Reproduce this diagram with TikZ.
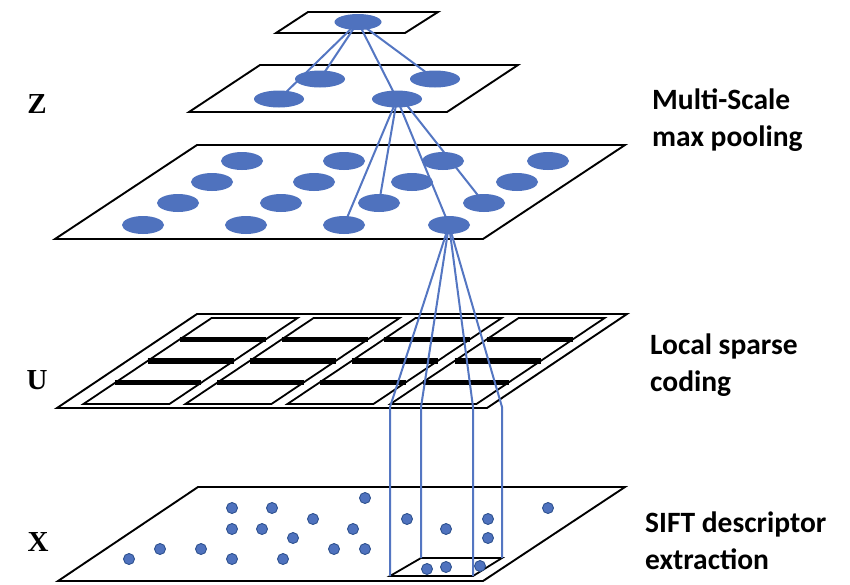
\documentclass[tikz,border=0pt]{standalone}
\usepackage{fontspec}
\setmainfont{Liberation Serif}
\newfontfamily\calibfont{Carlito}
\usetikzlibrary{shapes.geometric}
\pgfdeclarelayer{planes}
\pgfdeclarelayer{links}
\pgfsetlayers{planes,links,main}
\definecolor{nodeblue}{RGB}{79,114,190}
\definecolor{linkblue}{RGB}{84,118,194}
\definecolor{dotedge}{RGB}{47,82,143}
\begin{document}
\begin{tikzpicture}[x=1pt,y=-1pt,
  plane/.style={draw=black,line width=1.9pt,fill=white,line join=miter},
  panel/.style={draw=black,line width=1.8pt,line join=miter},
  bar/.style={draw=black,line width=5.5pt},
  topell/.style={ellipse,fill=nodeblue,minimum width=47pt,minimum height=16pt,inner sep=0pt},
  bigell/.style={ellipse,fill=nodeblue,minimum width=50pt,minimum height=17pt,inner sep=0pt},
  midell/.style={ellipse,fill=nodeblue,minimum width=42pt,minimum height=18pt,inner sep=0pt},
  link/.style={draw=linkblue,line width=2pt},
  dot/.style={circle,fill=nodeblue,draw=dotedge,line width=0.9pt,minimum size=11pt,inner sep=0pt},
  layerlab/.style={font=\bfseries\fontsize{29}{30}\selectfont,inner sep=0pt},
  desc/.style={anchor=north west,align=left,inner sep=0pt,font=\calibfont\bfseries\fontsize{29.5}{37}\selectfont},
  ]
\useasboundingbox (0,0) rectangle (850,584);

% ---------- coordinates for the descriptor window ----------
\coordinate (ub1) at (390,407);
\coordinate (ub2) at (421,407);
\coordinate (ub3) at (473,407);
\coordinate (ub4) at (502,407);
\coordinate (s1) at (390,576);
\coordinate (s2) at (421,558);
\coordinate (s3) at (473,576);
\coordinate (s4) at (502,558);

% ---------- planes ----------
\begin{pgfonlayer}{planes}
  % X plane
  \draw[plane] (198,487) -- (625,487) -- (483,581) -- (58,581) -- cycle;
  \draw[panel] (s1) -- (s3) -- (s4) -- (s2) -- cycle;
  % U plane
  \draw[plane] (197,314) -- (627,314) -- (487,408) -- (57,408) -- cycle;
  \foreach \a/\b in {77.5/163.5, 179.5/265.5, 281.5/367.5, 384.5/470.5} {
    \draw[panel] ({\a+1.49*90},318) -- ({\b+1.49*90},318) -- ({\b+1.49*4},404) -- ({\a+1.49*4},404) -- cycle;
    \foreach \yy in {339.5,361,382.5} {
      \draw[bar] ({\a+1.49*(408-\yy)},\yy) -- ({\b+1.49*(408-\yy)},\yy);
    }
  }
  % pooling plane
  \draw[plane] (197,145) -- (625,145) -- (483,239) -- (55,239) -- cycle;
  % second plane
  \draw[plane] (260,65) -- (518,65) -- (447,112) -- (189,112) -- cycle;
  % top plane
  \draw[plane] (308,12) -- (438,12) -- (405,33) -- (276,33) -- cycle;
\end{pgfonlayer}

% ---------- ellipse nodes ----------
\node[topell] (t) at (358,22) {};
\node[bigell] (p1) at (320,79) {};
\node[bigell] (p2) at (435,79) {};
\node[bigell] (p3) at (279,99) {};
\node[bigell] (p4) at (397,99) {};

\node[midell] (m11) at (242,161) {};
\node[midell] (m12) at (344,161) {};
\node[midell] (m13) at (443,161) {};
\node[midell] (m14) at (548,161) {};
\node[midell] (m21) at (212,182) {};
\node[midell] (m22) at (314,182) {};
\node[midell] (m23) at (412,182) {};
\node[midell] (m24) at (517,182) {};
\node[midell] (m31) at (178,203) {};
\node[midell] (m32) at (281,203) {};
\node[midell] (m33) at (379,203) {};
\node[midell] (m34) at (484,203) {};
\node[midell] (m41) at (143,225) {};
\node[midell] (m42) at (246,225) {};
\node[midell] (m43) at (344,225) {};
\node[midell] (m44) at (449,225) {};

% ---------- descriptor dots ----------
\node[dot] (d1) at (232,508) {};
\node[dot] (d2) at (272,508) {};
\node[dot] (d3) at (313,519) {};
\node[dot] (d4) at (232,529) {};
\node[dot] (d5) at (262,529) {};
\node[dot] (d6) at (293,538) {};
\node[dot] (d7) at (129,559) {};
\node[dot] (d8) at (160,549) {};
\node[dot] (d9) at (201,549) {};
\node[dot] (d10) at (232,559) {};
\node[dot] (d11) at (283,559) {};
\node[dot] (d12) at (334,549) {};
\node[dot] (d13) at (365,498) {};
\node[dot] (d14) at (353,529) {};
\node[dot] (d15) at (365,549) {};
\node[dot] (d16) at (407,519) {};
\node[dot] (d17) at (446,529) {};
\node[dot] (d18) at (488,519) {};
\node[dot] (d19) at (488,538) {};
\node[dot] (d20) at (548,508) {};
\node[dot] (d21) at (427,569) {};
\node[dot] (d22) at (446,567) {};
\node[dot] (d23) at (480,566) {};

% ---------- links ----------
\begin{pgfonlayer}{links}
  \draw[link] (t.center) -- (p3.center);
  \draw[link] (t.center) -- (p1.center);
  \draw[link] (t.center) -- (p4.center);
  \draw[link] (t.center) -- (p2.center);
  \draw[link] (p4.center) -- (m43.center);
  \draw[link] (p4.center) -- (m33.center);
  \draw[link] (p4.center) -- (m44.center);
  \draw[link] ([xshift=5pt]p4.center) -- (m34.center);
  \draw[link] (m44.center) -- (ub1) -- (s1);
  \draw[link] (m44.center) -- (ub2) -- (s2);
  \draw[link] (m44.center) -- (ub3) -- (s3);
  \draw[link] (m44.center) -- (ub4) -- (s4);
\end{pgfonlayer}

% ---------- labels ----------
\node[layerlab] (zl) at (37,104) {Z};
\node[layerlab] (ul) at (37,380) {U};
\node[layerlab] (xl) at (38,542) {X};

\node[desc] (pool) at (652,89) {Multi-Scale\\max pooling};
\node[desc] (code) at (650,334) {Local sparse\\coding};
\node[desc] (sift) at (645,512) {SIFT descriptor\\extraction};
\end{tikzpicture}
\end{document}
